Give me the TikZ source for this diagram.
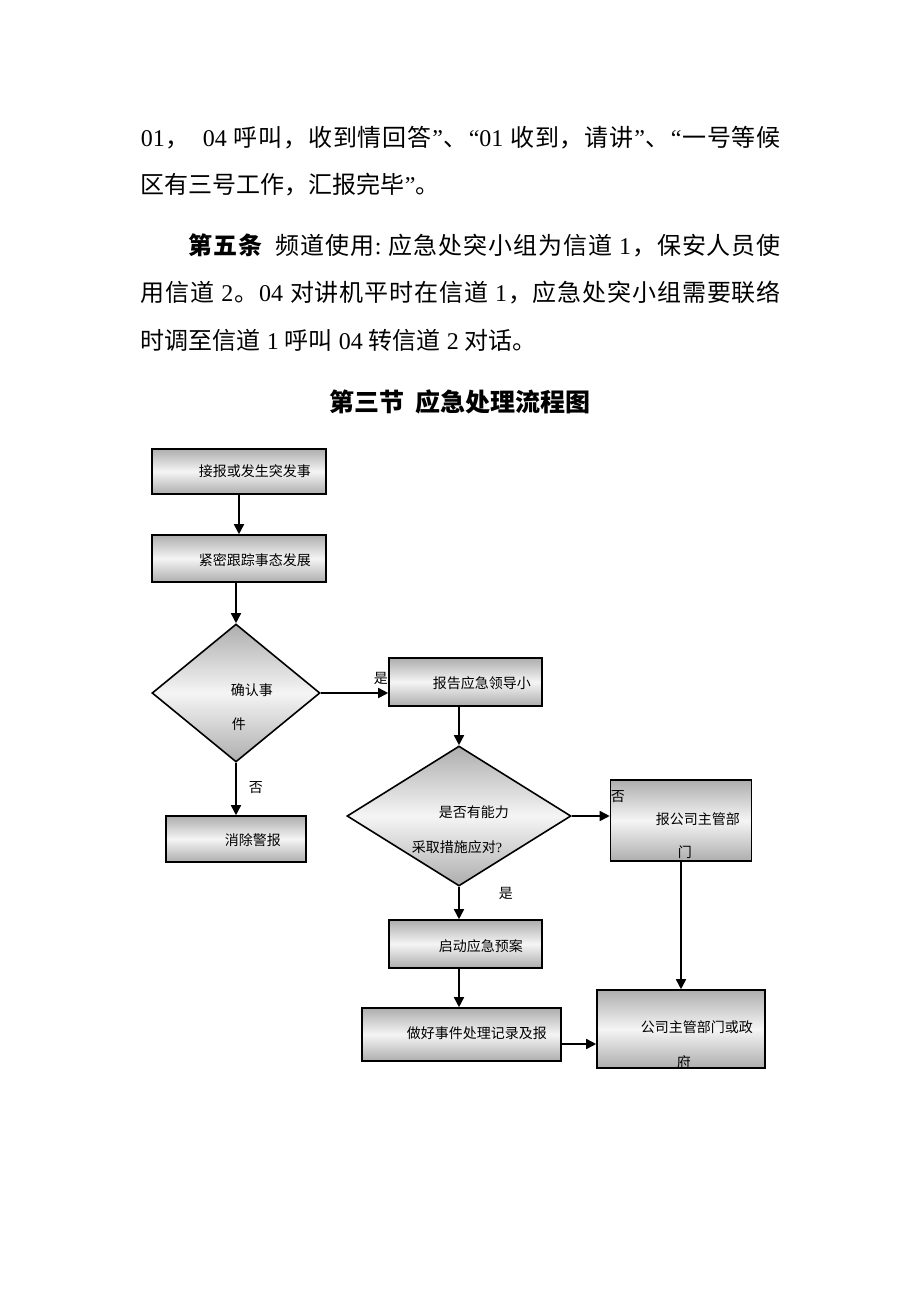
\documentclass[tikz,border=0pt]{standalone}
\usepackage{fontspec}
\setmainfont{Liberation Serif}
\newfontfamily\cjk{Noto Sans CJK SC}
\usetikzlibrary{shapes.geometric,arrows.meta}
\newcommand\dg[1]{{\rmfamily#1}}
% spread a line of characters over a given width
\def\spread#1{\spreadi#1\relax\unskip}
\def\spreadi#1{\ifx\relax#1\else#1\hfil\expandafter\spreadi\fi}
\tikzset{
  box/.style={draw,line width=0.8pt,top color=black!32,bottom color=black!32,middle color=black!4,inner sep=0pt},
  dia/.style={box,diamond},
  txt/.style={font=\cjk\fontsize{7}{8}\selectfont,inner sep=0pt,anchor=west},
  para/.style={font=\cjk\fontsize{12}{14}\selectfont,inner sep=0pt,anchor=west}
}
\begin{document}
\begin{tikzpicture}[x=0.5pt,y=-0.5pt,>={Triangle[length=5pt,width=5pt]},line width=0.8pt]
\fill[white] (0,0) rectangle (920,1302);
\useasboundingbox (0,0) rectangle (920,1302);
% text of the page
\node[para] (p1) at (140,138) {\makebox[320pt][s]{\spread{{\dg{01}}，{\ }{\ }{\dg{04 }}呼叫，收到情回答{\dg{”}}、{\dg{“01 }}收到，请讲{\dg{”}}、{\dg{“}}一号等候}}};
\node[para] (p2) at (140,185) {区有三号工作，汇报完毕\dg{”}。};
\node[para] (p3) at (188,245) {\makebox[296pt][s]{\spread{{{\bfseries 第}}{{\bfseries 五}}{{\bfseries 条}}{\ \ }频道使用{\dg{:}}{\ }应急处突小组为信道{\dg{ 1}}，保安人员使}}};
\node[para] (p4) at (140,293) {\makebox[320pt][s]{\spread{用信道{\dg{ 2}}。{\dg{04 }}对讲机平时在信道{\dg{ 1}}，应急处突小组需要联络}}};
\node[para] (p5) at (140,340) {时调至信道\dg{ 1 }呼叫\dg{ 04 }转信道\dg{ 2 }对话。};
\node[font=\cjk\bfseries\fontsize{12.5}{14}\selectfont,inner sep=0pt] (title) at (460,402) {第三节\ \ 应急处理流程图};
% flow chart
\node[box,minimum width=87pt,minimum height=22.5pt] (b1) at (239,471.5) {};
\node[txt] (t1) at (198,471) {接报或发生突发事};
\node[box,minimum width=87pt,minimum height=23.5pt] (b2) at (239,558.5) {};
\node[txt] (t2) at (198,560) {紧密跟踪事态发展};
\node[dia,minimum width=84pt,minimum height=69pt] (d1) at (236,693) {};
\node[txt] (t3) at (230,690) {确认事};
\node[txt] (t3b) at (231,724) {件};
\node[box,minimum width=76.5pt,minimum height=24pt] (b3) at (465.5,682) {};
\node[txt] (t4) at (432,683) {报告应急领导小};
\node[dia,minimum width=112pt,minimum height=70pt] (d2) at (459,816) {};
\node[txt] (t5) at (438,812) {是否有能力};
\node[txt] (t5b) at (411,847) {采取措施应对\dg{?}};
\node[box,minimum width=70.5pt,minimum height=40.5pt] (b4) at (681,820.5) {};
\node[txt] (t6) at (655,819) {报公司主管部};
\node[txt] (t6b) at (677,852) {门};
\node[box,minimum width=70pt,minimum height=23pt] (b5) at (236,839) {};
\node[txt] (t7) at (224,840) {消除警报};
\node[box,minimum width=76.5pt,minimum height=24pt] (b6) at (465.5,944) {};
\node[txt] (t8) at (438,946) {启动应急预案};
\node[box,minimum width=99.5pt,minimum height=26.5pt] (b7) at (461.5,1034.5) {};
\node[txt] (t9) at (406,1033) {做好事件处理记录及报};
\node[box,minimum width=84pt,minimum height=39pt] (b8) at (681,1029) {};
\node[txt] (t10) at (640,1027) {公司主管部门或政};
\node[txt] (t10b) at (676,1062) {府};
% connectors
\draw[->] (b1) -- (b2);
\draw[->] (d1.north |- b2.south) -- (d1.north);
\draw[->] (d1.east) -- (d1.east -| b3.west);
\node[txt] (y1) at (373,678) {是};
\draw[->] (d1) -- (b5);
\node[txt] (n1) at (248,788) {否};
\draw[->] (d2.north |- b3.south) -- (d2.north);
\draw[->] (d2.east) -- (d2.east -| b4.west);
\node[txt] (n2) at (610,797) {否};
\draw[->] (d2.south) -- (d2.south |- b6.north);
\node[txt] (y2) at (498,893) {是};
\draw[->] (d2.south |- b6.south) -- (d2.south |- b7.north);
\draw[->] (b4.south) -- (b4.south |- b8.north);
\draw[->] ([yshift=-4.75pt]b7.east) -- ([yshift=-4.75pt]b7.east -| b8.west);
\end{tikzpicture}
\end{document}
